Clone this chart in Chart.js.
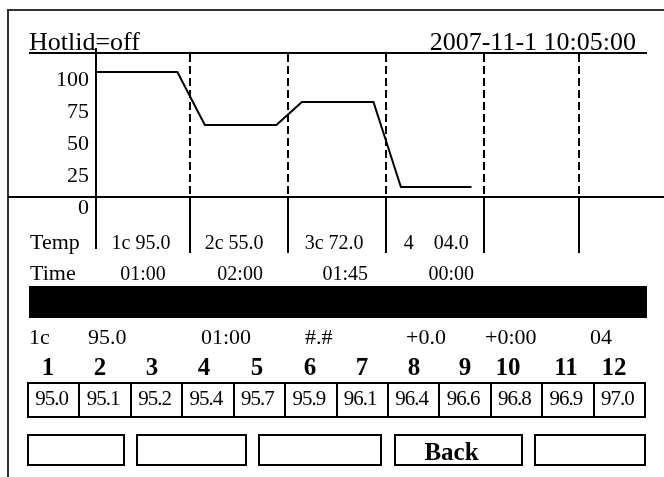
<!DOCTYPE html>
<html>
<head>
<meta charset="utf-8">
<script src="https://cdn.jsdelivr.net/npm/chart.js@4/dist/chart.umd.min.js"></script>
<style>
  html, body { margin: 0; padding: 0; background: #fff; }
  #wrap { width: 664px; height: 477px; position: relative; }
</style>
</head>
<body>
<div id="wrap"><canvas id="c" width="664" height="477"></canvas></div>
<script>
// ---- data ----
const headerLeft = 'Hotlid=off';
const headerRight = '2007-11-1 10:05:00';
const stepNames = ['1c', '2c', '3c', '4'];
const stepTemps = [95.0, 55.0, 72.0, 4.0];
const stepTimes = ['01:00', '02:00', '01:45', '00:00'];
const segmentEdges = [0.96, 1.96, 2.96, 3.96, 4.93];
const profileX = [0.01, 0.83, 1.11, 1.84, 2.10, 2.83, 3.11, 3.83];
const profileY = [97.7, 97.7, 56.3, 56.3, 74.2, 74.2, 7.8, 7.8];
const yTicks = [0, 25, 50, 75, 100];
const statusRow = ['1c', '95.0', '01:00', '#.#', '+0.0', '+0:00', '04'];
const wellNumbers = ['1','2','3','4','5','6','7','8','9','10','11','12'];
const wellTemps = [95.0, 95.1, 95.2, 95.4, 95.7, 95.9, 96.1, 96.4, 96.6, 96.8, 96.9, 97.0];
const buttonLabels = ['', '', '', 'Back', ''];

// ---- layout / style (not data) ----
const SERIF = '"Liberation Serif", "Times New Roman", serif';
const L = {
  frameX: 8, frameY: 10,
  ruleX0: 29, ruleX1: 647, ruleY: 53,
  headerBase: 50, dateRight: 636,
  axisTop: 48, axisBottom: 249, edgeBottom: 253,
  tempBase: 249, timeBase: 280, rowLabelX: 30,
  timeOffsets: [0, 1, 8, 16], tempOffsets: [-2, -5, -3, 1],
  barY: 286, barH: 32,
  statusBase: 344, statusX: [29, 88, 201, 305, 406, 485, 590],
  numBase: 375, numX: [48, 100, 152, 204, 257, 310, 362, 414, 465, 508, 566, 614],
  cellX0: 28, cellX1: 645, cellY0: 383, cellY1: 417, cellBase: 405,
  btnY0: 435, btnY1: 465, btnBase: 460,
  btnX: [[28, 124], [137, 246], [259, 381], [395, 522], [535, 645]], backShift: -7
};

const points = profileX.map((x, i) => ({ x: x, y: profileY[i] }));

function seg(ctx, x0, y0, x1, y1) {
  ctx.beginPath(); ctx.moveTo(x0, y0); ctx.lineTo(x1, y1); ctx.stroke();
}

const uiPlugin = {
  id: 'ui',
  afterDraw(chart) {
    const ctx = chart.ctx, xs = chart.scales.x, ys = chart.scales.y;
    const area = chart.chartArea;
    const zeroY = Math.round(ys.getPixelForValue(0));
    ctx.save();
    ctx.lineCap = 'butt';
    // frame
    ctx.strokeStyle = '#333'; ctx.lineWidth = 2;
    ctx.beginPath(); ctx.moveTo(L.frameX, 477); ctx.lineTo(L.frameX, L.frameY); ctx.lineTo(664, L.frameY); ctx.stroke();
    ctx.strokeStyle = '#000'; ctx.fillStyle = '#000';
    // header
    seg(ctx, L.ruleX0, L.ruleY, L.ruleX1, L.ruleY);
    ctx.font = '26px ' + SERIF;
    ctx.textBaseline = 'alphabetic';
    ctx.textAlign = 'left'; ctx.fillText(headerLeft, L.ruleX0, L.headerBase);
    ctx.textAlign = 'right'; ctx.fillText(headerRight, L.dateRight, L.headerBase);
    // zero line & axis
    seg(ctx, L.frameX, zeroY, 664, zeroY);
    seg(ctx, area.left, L.axisTop, area.left, L.axisBottom);
    // segment edges
    segmentEdges.forEach(v => {
      const px = Math.round(xs.getPixelForValue(v));
      ctx.setLineDash([8, 4]);
      seg(ctx, px, area.top, px, zeroY);
      ctx.setLineDash([]);
      seg(ctx, px, zeroY, px, L.edgeBottom);
    });
    // Temp / Time rows
    ctx.font = '22px ' + SERIF; ctx.textAlign = 'left';
    ctx.fillText('Temp', L.rowLabelX, L.tempBase);
    ctx.fillText('Time', L.rowLabelX, L.timeBase);
    ctx.font = '20px ' + SERIF; ctx.textAlign = 'center';
    stepNames.forEach((name, i) => {
      const a = xs.getPixelForValue(i === 0 ? 0 : segmentEdges[i - 1]);
      const b = xs.getPixelForValue(segmentEdges[i]);
      const c = (a + b) / 2;
      const t = stepTemps[i].toFixed(1).padStart(4, '0');
      const gap = name.length === 1 ? '\u2003' : ' ';
      ctx.fillText(name + gap + t, c + L.tempOffsets[i], L.tempBase);
      ctx.fillText(stepTimes[i], c + L.timeOffsets[i], L.timeBase);
    });
    // black bar
    ctx.fillRect(L.ruleX0, L.barY, L.ruleX1 - L.ruleX0, L.barH);
    // status row
    ctx.font = '22px ' + SERIF; ctx.textAlign = 'left';
    statusRow.forEach((s, i) => ctx.fillText(s, L.statusX[i], L.statusBase));
    // well numbers
    ctx.font = 'bold 25px ' + SERIF; ctx.textAlign = 'center';
    wellNumbers.forEach((s, i) => ctx.fillText(s, L.numX[i], L.numBase));
    // well cells
    const cw = (L.cellX1 - L.cellX0) / wellTemps.length;
    ctx.lineWidth = 2;
    ctx.strokeRect(L.cellX0, L.cellY0, L.cellX1 - L.cellX0, L.cellY1 - L.cellY0);
    for (let i = 1; i < wellTemps.length; i++) {
      const x = Math.round(L.cellX0 + cw * i);
      seg(ctx, x, L.cellY0, x, L.cellY1);
    }
    ctx.font = '21px ' + SERIF;
    if ('letterSpacing' in ctx) ctx.letterSpacing = '-1px';
    wellTemps.forEach((v, i) => {
      ctx.fillText(v.toFixed(1), L.cellX0 + cw * (i + 0.5) - 2, L.cellBase);
    });
    if ('letterSpacing' in ctx) ctx.letterSpacing = '0px';
    // buttons
    ctx.font = 'bold 25px ' + SERIF;
    buttonLabels.forEach((lab, i) => {
      const [x0, x1] = L.btnX[i];
      ctx.strokeRect(x0, L.btnY0, x1 - x0, L.btnY1 - L.btnY0);
      if (lab) ctx.fillText(lab, (x0 + x1) / 2 + L.backShift, L.btnBase);
    });
    ctx.restore();
  }
};

new Chart(document.getElementById('c'), {
  type: 'line',
  data: {
    datasets: [{
      data: points,
      borderColor: '#000',
      borderWidth: 2,
      pointRadius: 0,
      tension: 0,
      fill: false
    }]
  },
  options: {
    responsive: false,
    devicePixelRatio: 1,
    animation: false,
    layout: { padding: { left: 0, top: 54, right: 17, bottom: 280 } },
    plugins: { legend: { display: false }, tooltip: { enabled: false }, title: { display: false } },
    scales: {
      x: { type: 'linear', min: 0, max: 5.62, display: false },
      y: {
        type: 'linear', min: 0, max: 111.7,
        afterBuildTicks: s => { s.ticks = yTicks.map(v => ({ value: v })); },
        afterFit: s => { s.width = 96; },
        grid: { display: false, drawTicks: false },
        border: { display: false },
        ticks: {
          padding: 7, labelOffset: 11, color: '#000',
          font: { family: SERIF, size: 22 }
        }
      }
    }
  },
  plugins: [uiPlugin]
});
</script>
</body>
</html>
